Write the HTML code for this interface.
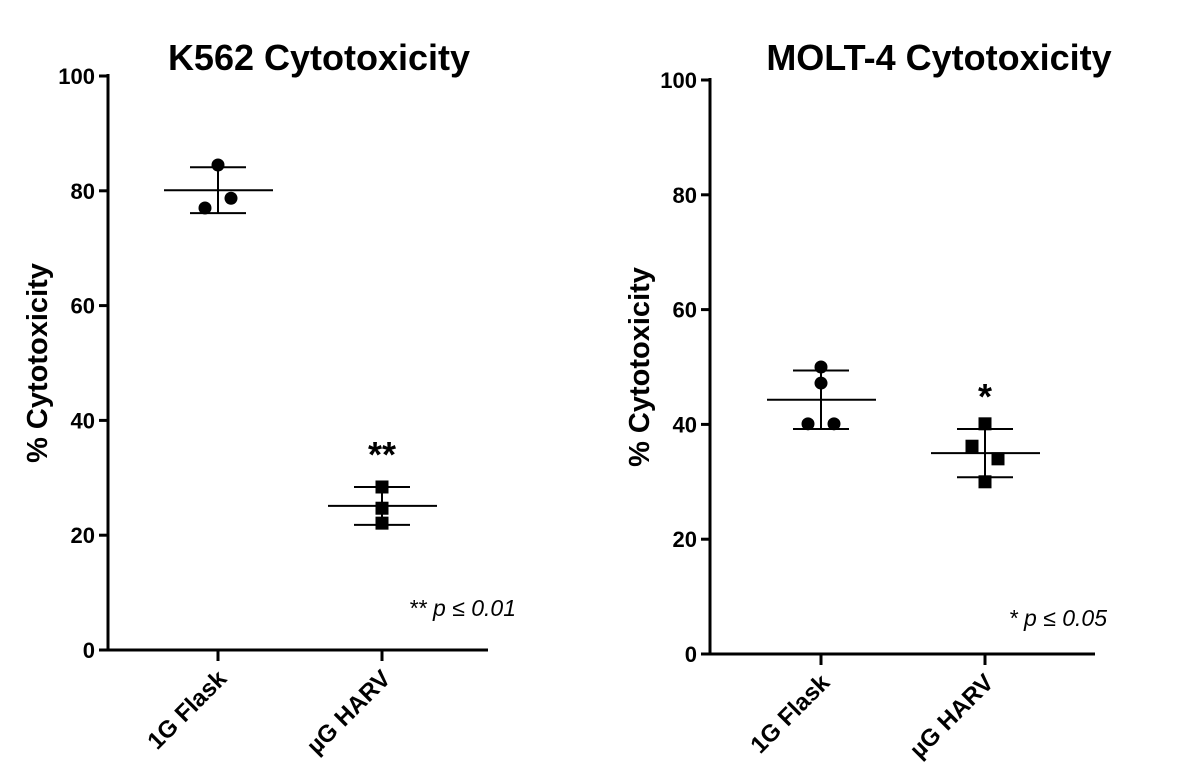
<!DOCTYPE html>
<html><head><meta charset="utf-8"><style>
html,body{margin:0;padding:0;background:#fff;}
svg{display:block;font-family:"Liberation Sans",Arial,sans-serif;}
</style></head><body>
<svg id="chart" width="1200" height="765" viewBox="0 0 1200 765"></svg>
<script>
const categories = ["1G Flask", "µG HARV"];
const k562Flask = [84.5, 78.7, 77.0];
const k562Harv = [28.4, 24.7, 22.1];
const k562Mean = [80.1, 25.1];
const k562Sd = [4.0, 3.3];
const moltFlask = [50.0, 47.2, 40.1, 40.1];
const moltHarv = [40.1, 36.2, 34.0, 30.0];
const moltMean = [44.3, 35.0];
const moltSd = [5.1, 4.2];
const yTicks = [0, 20, 40, 60, 80, 100];

const NS = "http://www.w3.org/2000/svg";
const svg = document.getElementById("chart");
function mk(tag, attrs, parent, name){
  const e = document.createElementNS(NS, tag);
  for (const k in attrs) e.setAttribute(k, attrs[k]);
  
  
  (parent||svg).appendChild(e);
  return e;
}

function panel(o){
  const g = mk('g', {}, svg, o.name);
  const y = v => o.y0 - (o.y0 - o.y100) * v / 100;
  const x = i => o.cx[i];
  mk('line',{x1:o.ax,y1:o.y100-2,x2:o.ax,y2:o.y0+1.5,stroke:'#000','stroke-width':3},g,'y-axis-line');
  mk('line',{x1:o.ax-1.5,y1:o.y0,x2:o.xEnd,y2:o.y0,stroke:'#000','stroke-width':3},g,'x-axis-line');
  yTicks.forEach(t=>{
    mk('line',{x1:o.ax-9,y1:y(t),x2:o.ax,y2:y(t),stroke:'#000','stroke-width':3},g,'y-tick');
    const tx = mk('text',{x:o.ax-13,y:y(t)+8,'text-anchor':'end','font-size':22,'font-weight':'bold'},g,'y-tick-label');
    tx.textContent = t;
  });
  categories.forEach((c,i)=>{
    mk('line',{x1:x(i),y1:o.y0,x2:x(i),y2:o.y0+11,stroke:'#000','stroke-width':3},g,'x-tick');
    const tx = mk('text',{x:0,y:0,'text-anchor':'end','font-size':24,'font-weight':'bold',transform:`translate(${x(i)+10},${o.y0+30}) rotate(-45)`},g,'x-tick-label');
    tx.textContent = c;
  });
  const tt = mk('text',{x:o.titleX,y:o.titleY,'text-anchor':'middle','font-size':36,'font-weight':'bold'},g,'chart-title');
  tt.textContent = o.title;
  const yt = mk('text',{x:0,y:0,'text-anchor':'middle','font-size':29,'font-weight':'bold',transform:`translate(${o.ax-61},${(o.y0+o.y100)/2}) rotate(-90)`},g,'y-axis-title');
  yt.textContent = '% Cytotoxicity';
  o.mean.forEach((m,i)=>{
    const sd = o.sd[i];
    mk('line',{x1:x(i),y1:y(m+sd),x2:x(i),y2:y(m-sd),stroke:'#000','stroke-width':2},g,'error-bar');
    mk('line',{x1:x(i)-28,y1:y(m+sd),x2:x(i)+28,y2:y(m+sd),stroke:'#000','stroke-width':2},g,'error-cap-top');
    mk('line',{x1:x(i)-28,y1:y(m-sd),x2:x(i)+28,y2:y(m-sd),stroke:'#000','stroke-width':2},g,'error-cap-bottom');
    mk('line',{x1:x(i)-54,y1:y(m),x2:x(i)+55,y2:y(m),stroke:'#000','stroke-width':2},g,'mean-line');
  });
  o.flask.forEach((v,j)=>{
    mk('circle',{cx:x(0)+o.jf[j],cy:y(v),r:6.5,fill:'#000'},g,'flask-point');
  });
  o.harv.forEach((v,j)=>{
    mk('rect',{x:x(1)+o.jh[j]-6.5,y:y(v)-6.5,width:13,height:13,fill:'#000'},g,'harv-point');
  });
  const st = mk('text',{x:x(1),y:y(o.mean[1]+o.sd[1])-20,'text-anchor':'middle','font-size':36,'font-weight':'bold'},g,'significance-marker');
  st.textContent = o.star;
  const pt = mk('text',{x:o.pX,y:o.pY,'text-anchor':'end','font-size':23,'font-style':'italic'},g,'p-value-note');
  pt.textContent = o.pText;
}

panel({name:'k562-panel',ax:108,y0:650,y100:76,xEnd:488,cx:[218,382],title:'K562 Cytotoxicity',titleX:319,titleY:70,
  flask:k562Flask,harv:k562Harv,mean:k562Mean,sd:k562Sd,jf:[0,13,-13],jh:[0,0,0],star:'**',pText:'** p ≤ 0.01',pX:516,pY:616});
panel({name:'molt4-panel',ax:710,y0:654,y100:80,xEnd:1095,cx:[821,985],title:'MOLT-4 Cytotoxicity',titleX:939,titleY:70,
  flask:moltFlask,harv:moltHarv,mean:moltMean,sd:moltSd,jf:[0,0,-13,13],jh:[0,-13,13,0],star:'*',pText:'* p ≤ 0.05',pX:1107,pY:626});
</script>
</body></html>
